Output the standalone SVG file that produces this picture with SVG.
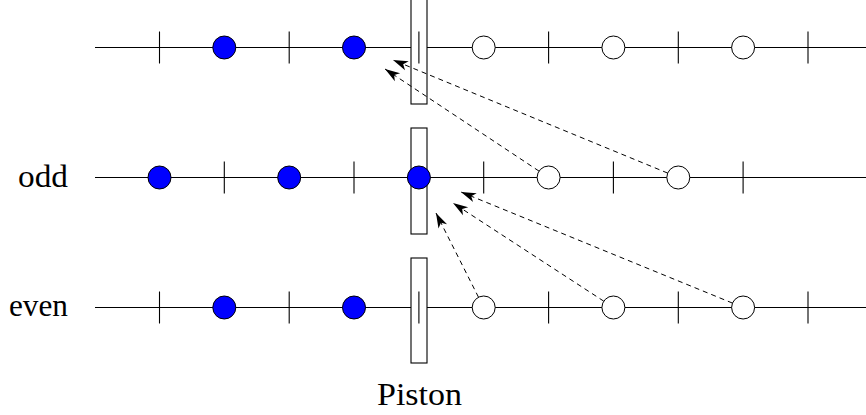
<svg xmlns="http://www.w3.org/2000/svg" width="866" height="415" viewBox="0 0 866 415">
<defs>
<marker id="stealth" markerUnits="userSpaceOnUse" viewBox="-16 -6 17 12" refX="0" refY="0" markerWidth="17" markerHeight="12" orient="auto">
<path d="M0,0 L-15,-4.8 L-11,0 L-15,4.8 Z" fill="#000" stroke="none"/>
</marker>
</defs>
<style>
.axis{stroke:#000;stroke-width:1.1;fill:none}
.tick{stroke:#000;stroke-width:1.1}
.full{fill:#0000ff;stroke:#000;stroke-width:1}
.empty{fill:#fff;stroke:#000;stroke-width:1}
.piston{fill:#fff;stroke:#000;stroke-width:1.1}
.arrow{stroke:#000;stroke-width:1;stroke-dasharray:5,4;fill:none;marker-end:url(#stealth)}
.lbl{font-family:"Liberation Serif","DejaVu Serif",serif;font-size:31px;fill:#000}
</style>

<g id="row-top">
<line class="axis" x1="95" y1="47.5" x2="866" y2="47.5"/>
<rect class="piston" x="411" y="-3" width="16" height="107"/>
<line class="tick" x1="159.5" y1="31.5" x2="159.5" y2="63.5"/>
<line class="tick" x1="289.2" y1="31.5" x2="289.2" y2="63.5"/>
<line class="tick" x1="418.9" y1="31.5" x2="418.9" y2="63.5"/>
<line class="tick" x1="548.6" y1="31.5" x2="548.6" y2="63.5"/>
<line class="tick" x1="678.3" y1="31.5" x2="678.3" y2="63.5"/>
<line class="tick" x1="808" y1="31.5" x2="808" y2="63.5"/>
<circle class="full" cx="224.3" cy="47.5" r="11.5"/>
<circle class="full" cx="354" cy="47.5" r="11.5"/>
<circle class="empty" cx="483.7" cy="47.5" r="11.5"/>
<circle class="empty" cx="613.4" cy="47.5" r="11.5"/>
<circle class="empty" cx="743.1" cy="47.5" r="11.5"/>
</g>

<g id="row-odd">
<line class="axis" x1="95" y1="177.5" x2="866" y2="177.5"/>
<rect class="piston" x="411" y="128" width="16" height="106"/>
<line class="tick" x1="224.3" y1="161.5" x2="224.3" y2="193.5"/>
<line class="tick" x1="354" y1="161.5" x2="354" y2="193.5"/>
<line class="tick" x1="483.7" y1="161.5" x2="483.7" y2="193.5"/>
<line class="tick" x1="613.4" y1="161.5" x2="613.4" y2="193.5"/>
<line class="tick" x1="743.1" y1="161.5" x2="743.1" y2="193.5"/>
<circle class="full" cx="159.5" cy="177.5" r="11.5"/>
<circle class="full" cx="289.2" cy="177.5" r="11.5"/>
<circle class="full" cx="418.9" cy="177.5" r="11.5"/>
<circle class="empty" cx="548.6" cy="177.5" r="11.5"/>
<circle class="empty" cx="678.3" cy="177.5" r="11.5"/>
</g>

<g id="row-even">
<line class="axis" x1="95" y1="307.5" x2="866" y2="307.5"/>
<rect class="piston" x="411" y="258" width="16" height="105"/>
<line class="tick" x1="159.5" y1="291.5" x2="159.5" y2="323.5"/>
<line class="tick" x1="289.2" y1="291.5" x2="289.2" y2="323.5"/>
<line class="tick" x1="418.9" y1="291.5" x2="418.9" y2="323.5"/>
<line class="tick" x1="548.6" y1="291.5" x2="548.6" y2="323.5"/>
<line class="tick" x1="678.3" y1="291.5" x2="678.3" y2="323.5"/>
<line class="tick" x1="808" y1="291.5" x2="808" y2="323.5"/>
<circle class="full" cx="224.3" cy="307.5" r="11.5"/>
<circle class="full" cx="354" cy="307.5" r="11.5"/>
<circle class="empty" cx="483.7" cy="307.5" r="11.5"/>
<circle class="empty" cx="613.4" cy="307.5" r="11.5"/>
<circle class="empty" cx="743.1" cy="307.5" r="11.5"/>
</g>

<g id="connectors">
<line class="arrow" x1="667.7" y1="173.1" x2="393" y2="60"/>
<line class="arrow" x1="539" y1="171.1" x2="385" y2="69"/>
<line class="arrow" x1="732.5" y1="303.1" x2="461" y2="192"/>
<line class="arrow" x1="603.8" y1="301.2" x2="453" y2="203"/>
<line class="arrow" x1="478.5" y1="297.2" x2="436" y2="213"/>
</g>

<g id="labels">
<text class="lbl" x="18" y="187" textLength="50" lengthAdjust="spacingAndGlyphs">odd</text>
<text class="lbl" x="9" y="316" textLength="59" lengthAdjust="spacingAndGlyphs">even</text>
<text class="lbl" x="377" y="405" textLength="85" lengthAdjust="spacingAndGlyphs">Piston</text>
</g>
</svg>
